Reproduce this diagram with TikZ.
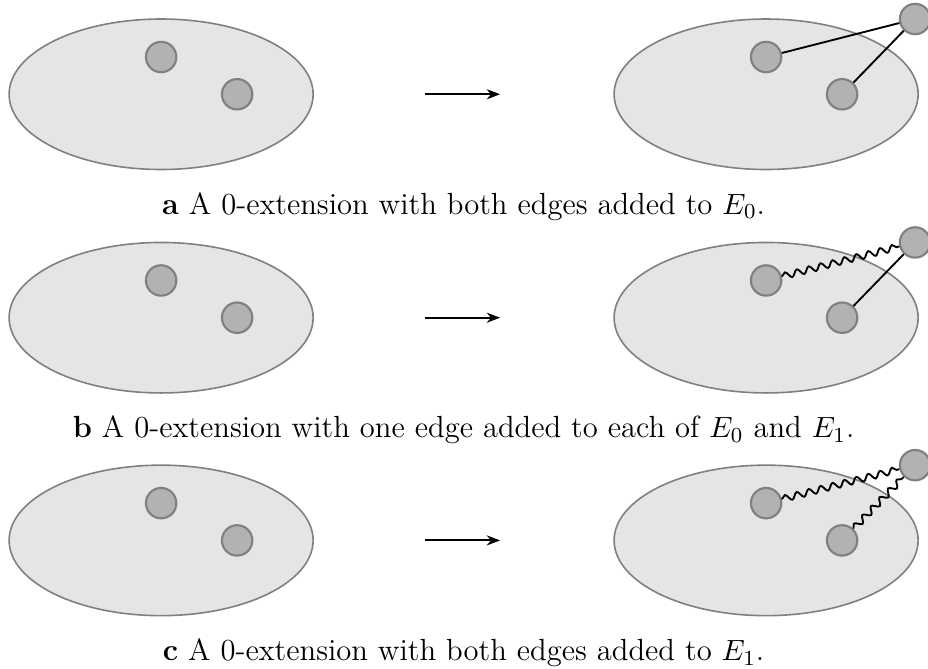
\documentclass[tikz,border=0pt]{standalone}
\usepackage{amsmath,amssymb}
\usepackage{xcolor}
\usepackage{tikz}
\usetikzlibrary{arrows.meta,decorations.pathmorphing}

\begin{document}
\begin{tikzpicture}[
      region/.style={draw=black!50, fill=black!10, line width=0.6pt},
      vtx/.style={circle, draw=black!50, fill=black!30, line width=0.8pt, minimum size=0.4cm, inner sep=0pt},
      ed/.style={draw=black, line width=0.7pt},
      wv/.style={ed, decorate, decoration={snake, segment length=4.6pt, amplitude=1.2pt}}]
    \useasboundingbox (0,0) rectangle (12.21,-8.79);
    \foreach \r/\y/\eu/\ev/\txt in {
        a/-1.24/ed/ed/{both edges added to $E_0$},
        b/-4.18/wv/ed/{one edge added to each of $E_0$ and $E_1$},
        c/-7.11/wv/wv/{both edges added to $E_1$}} {
      % before
      \draw[region] (2.12, \y) ellipse (2 and 0.99);
      \node[vtx] (l1\r) at (2.12, \y+0.49) {};
      \node[vtx] (l2\r) at (3.12, \y) {};
      % arrow
      \coordinate (s\r) at (5.59, \y);
      \coordinate (t\r) at (6.58, \y);
      \draw[-{Stealth[length=5pt]}, line width=0.75pt] (s\r) -- (t\r);
      % after
      \draw[region] (10.08, \y) ellipse (2 and 0.99);
      \node[vtx] (r1\r) at (10.08, \y+0.49) {};
      \node[vtx] (r2\r) at (11.08, \y) {};
      \node[vtx] (r3\r) at (12.04, \y+0.99) {};
      \draw[\eu] (r1\r) -- (r3\r);
      \draw[\ev] (r2\r) -- (r3\r);
      % caption
      \node[font=\fontsize{11.45}{13.5}\selectfont] (cap\r) at (6.1, \y-1.48) {\textbf{\r} A 0-extension with \txt.};
    }
\end{tikzpicture}
\end{document}
